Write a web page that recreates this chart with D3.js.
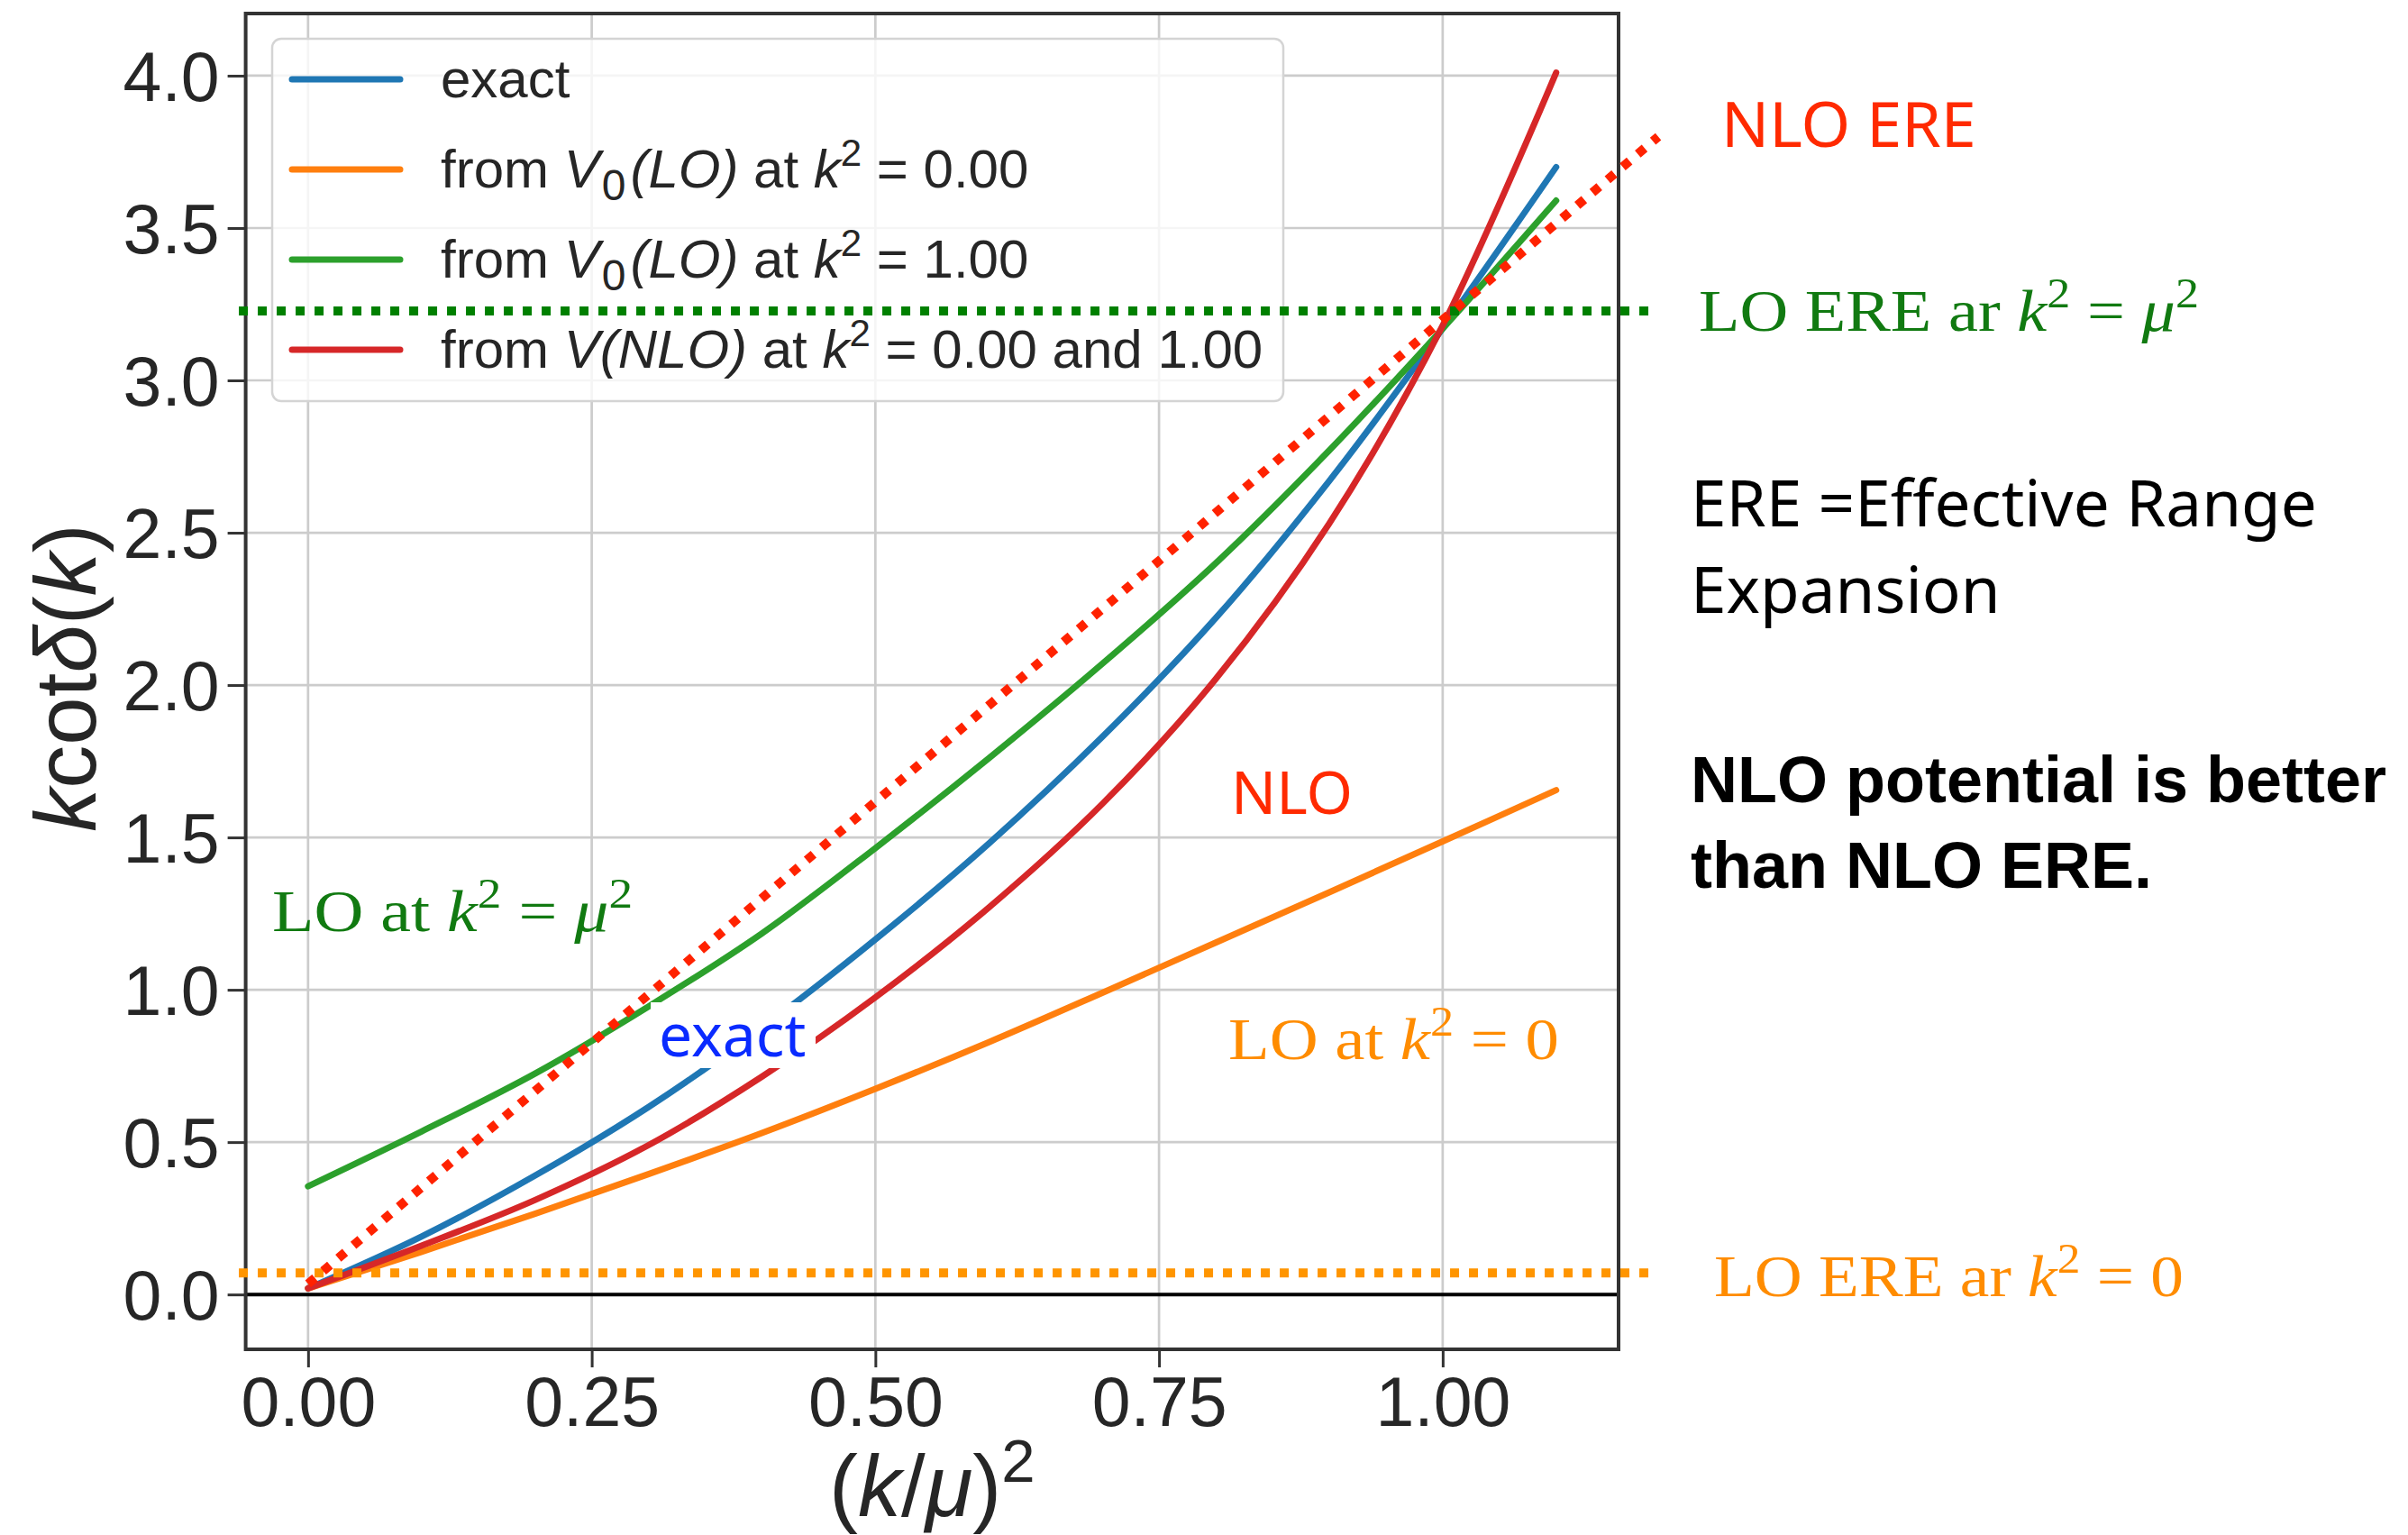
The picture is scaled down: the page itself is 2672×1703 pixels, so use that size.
<!DOCTYPE html>
<html>
<meta http-equiv="content-type" content="text/html; charset=utf-8" />
<head>
    <title>k cot delta</title>
</head>

<style>
body { margin: 0; background: #fff; }
text { white-space: pre; }
.axis text {
  font-family: "Liberation Sans", Arial, sans-serif;
  font-size: 77px;
  fill: #262626;
}
.axis line {
  stroke: #333;
  stroke-width: 3px;
}
.axis path { display: none; }
.grid line {
  stroke: #cccccc;
  stroke-width: 2.7px;
}
.curve {
  fill: none;
  stroke-width: 7px;
  stroke-linecap: round;
  stroke-linejoin: round;
}
</style>

<body>
<svg class="chart"></svg>
<script src="https://d3js.org/d3.v7.min.js"></script>

<script type="text/javascript">
// (k/mu)^2 sample points shared by all curves
var xs      = [0, 0.1, 0.2, 0.3, 0.4, 0.5, 0.6, 0.7, 0.8, 0.9, 1.0, 1.1];
var exact   = [0.02, 0.19, 0.39, 0.615, 0.875, 1.165, 1.48, 1.83, 2.22, 2.67, 3.17, 3.70];
var loAt0   = [0.02, 0.14, 0.265, 0.395, 0.53, 0.675, 0.828, 0.99, 1.155, 1.32, 1.487, 1.655];
var loAt1   = [0.355, 0.535, 0.725, 0.945, 1.185, 1.465, 1.76, 2.07, 2.40, 2.77, 3.17, 3.59];
var nloBoth = [0.02, 0.16, 0.31, 0.49, 0.715, 0.975, 1.27, 1.61, 2.02, 2.53, 3.18, 4.01];

var seriesNames  = ["exact", "loAt0", "loAt1", "nloBoth"];
var seriesColors = ["#1f77b4", "#ff7f0e", "#2ca02c", "#d62728"];
var seriesValues = [exact, loAt0, loAt1, nloBoth];

var xTicks = [0, 0.25, 0.5, 0.75, 1.0];
var yTicks = [0, 0.5, 1.0, 1.5, 2.0, 2.5, 3.0, 3.5, 4.0];

// hand-drawn ERE lines laid over the plot
var ereSpanX = [-0.061, 1.185];
var ereLoMuY = 3.228;
var ereLo0Y  = 0.071;
var ereNloX  = [0, 1.19];
var ereNloY  = [0.035, 3.80];

var W = 2672, H = 1703;
var plot = {left: 272.6, right: 1796, top: 15, bottom: 1497};

var svg = d3.select(".chart").attr("width", W).attr("height", H);
svg.append("rect").attr("width", W).attr("height", H).attr("fill", "#fff");

var x = d3.scaleLinear().domain([-0.055, 1.155]).range([plot.left, plot.right]);
var y = d3.scaleLinear().domain([-0.18, 4.204]).range([plot.bottom, plot.top]);

// grid
var grid = svg.append("g").attr("class", "grid");
grid.selectAll(".gx").data(xTicks).enter().append("line")
  .attr("x1", function(d) { return x(d); }).attr("x2", function(d) { return x(d); })
  .attr("y1", plot.top).attr("y2", plot.bottom);
grid.selectAll(".gy").data(yTicks).enter().append("line")
  .attr("y1", function(d) { return y(d); }).attr("y2", function(d) { return y(d); })
  .attr("x1", plot.left).attr("x2", plot.right);

// zero line
svg.append("line")
  .attr("x1", plot.left).attr("x2", plot.right)
  .attr("y1", y(0)).attr("y2", y(0))
  .attr("stroke", "#000").attr("stroke-width", 4);

// curves
var line = d3.line()
  .x(function(d) { return x(d[0]); })
  .y(function(d) { return y(d[1]); })
  .curve(d3.curveCatmullRom.alpha(0.5));

seriesValues.forEach(function(vals, i) {
  svg.append("path")
    .attr("class", "curve")
    .attr("stroke", seriesColors[i])
    .attr("d", line(xs.map(function(v, j) { return [v, vals[j]]; })));
});

// frame and axes
svg.append("rect")
  .attr("x", plot.left).attr("y", plot.top)
  .attr("width", plot.right - plot.left).attr("height", plot.bottom - plot.top)
  .attr("fill", "none").attr("stroke", "#333").attr("stroke-width", 4);

svg.append("g")
  .attr("class", "axis")
  .attr("transform", "translate(" + plot.left + ",0)")
  .call(d3.axisLeft(y).tickValues(yTicks).tickFormat(d3.format(".1f")).tickSize(20).tickPadding(9))
  .selectAll("text").attr("dy", "0.36em");

svg.append("g")
  .attr("class", "axis")
  .attr("transform", "translate(0," + plot.bottom + ")")
  .call(d3.axisBottom(x).tickValues(xTicks).tickFormat(d3.format(".2f")).tickSize(20).tickPadding(10));

// text with italic / super / subscript pieces
function mathText(parent, px, py, parts, size, color, family, weight) {
  var t = parent.append("text")
    .attr("x", px).attr("y", py)
    .style("font-size", size + "px")
    .style("font-family", family)
    .style("font-weight", weight || "normal")
    .style("fill", color);
  var shift = 0;
  parts.forEach(function(p) {
    var flag = p[1] || "";
    var s = t.append("tspan").text(p[0]);
    var target = 0;
    if (flag.indexOf("sup") >= 0) target = -0.40 * size;
    if (flag.indexOf("sub") >= 0) target = 0.24 * size;
    if (target !== shift) { s.attr("dy", target - shift); shift = target; }
    if (flag.indexOf("sup") >= 0) s.style("font-size", (size * 0.7) + "px");
    if (flag.indexOf("sub") >= 0) s.style("font-size", (size * 0.8) + "px").attr("dx", 2);
    if (flag.indexOf("it") >= 0) s.style("font-style", "italic");
    if (flag.indexOf("gap") >= 0) s.attr("dx", 5);
  });
  return t;
}

var sans = '"Liberation Sans", Arial, sans-serif';
var serif = '"Liberation Serif", "Times New Roman", serif';
var jp = '"Noto Sans", "Noto Sans CJK JP", sans-serif';

// axis labels
mathText(svg, (plot.left + plot.right) / 2, 1682,
  [["("], ["k", "it"], ["/"], ["μ", "it"], [")"], ["2", "sup"]], 96, "#262626", sans)
  .attr("text-anchor", "middle");
mathText(svg, 0, 0,
  [["k", "it"], ["cot"], ["δ", "it"], ["("], ["k", "it"], [")"]], 96, "#262626", sans)
  .attr("text-anchor", "middle")
  .attr("transform", "translate(106," + ((plot.top + plot.bottom) / 2 - 4) + ") rotate(-90)");

// legend
var legendLabels = [
  [["exact"]],
  [["from "], ["V", "it"], ["0", "sub"], ["(LO)", "it gap"], [" at "], ["k", "it"], ["2", "sup"], [" = 0.00"]],
  [["from "], ["V", "it"], ["0", "sub"], ["(LO)", "it gap"], [" at "], ["k", "it"], ["2", "sup"], [" = 1.00"]],
  [["from "], ["V", "it"], ["(NLO)", "it"], [" at "], ["k", "it"], ["2", "sup"], [" = 0.00 and 1.00"]]
];
var legend = svg.append("g");
legend.append("rect")
  .attr("x", 302).attr("y", 43).attr("width", 1122).attr("height", 402).attr("rx", 10)
  .attr("fill", "#fff").attr("fill-opacity", 0.8)
  .attr("stroke", "#d4d4d4").attr("stroke-width", 2.5);
legendLabels.forEach(function(parts, i) {
  var cy = 88 + i * 100;
  legend.append("line")
    .attr("x1", 324).attr("x2", 444).attr("y1", cy).attr("y2", cy)
    .attr("stroke", seriesColors[i]).attr("stroke-width", 7).attr("stroke-linecap", "round");
  mathText(legend, 489, cy + 20, parts, 60, "#262626", sans);
});

// ERE overlay lines
svg.append("line")
  .attr("x1", x(ereSpanX[0])).attr("x2", x(ereSpanX[1]))
  .attr("y1", y(ereLoMuY)).attr("y2", y(ereLoMuY))
  .attr("stroke", "#008000").attr("stroke-width", 10).attr("stroke-dasharray", "10,11");
svg.append("line")
  .attr("x1", x(ereSpanX[0])).attr("x2", x(ereSpanX[1]))
  .attr("y1", y(ereLo0Y)).attr("y2", y(ereLo0Y))
  .attr("stroke", "#ff9500").attr("stroke-width", 10).attr("stroke-dasharray", "10,11");
svg.append("line")
  .attr("x1", x(ereNloX[0])).attr("x2", x(ereNloX[1]))
  .attr("y1", y(ereNloY[0])).attr("y2", y(ereNloY[1]))
  .attr("stroke", "#ff2200").attr("stroke-width", 10).attr("stroke-dasharray", "10,12");

// annotations
var notes = svg.append("g");
notes.append("text").attr("x", 1910).attr("y", 163).text("NLO ERE")
  .style("font-family", jp).style("font-size", "70px").style("fill", "#ff2a00");
mathText(notes, 1885, 367, [["LO ERE ar "], ["k", "it"], ["2", "sup"], [" = "], ["μ", "it"], ["2", "sup"]], 65, "#117a11", serif)
  .attr("textLength", 555).attr("lengthAdjust", "spacingAndGlyphs");
notes.append("text").attr("x", 1876).attr("y", 584).text("ERE =Effective Range")
  .style("font-family", jp).style("font-size", "71px").style("fill", "#000");
notes.append("text").attr("x", 1876).attr("y", 680).text("Expansion")
  .style("font-family", jp).style("font-size", "71px").style("fill", "#000");
notes.append("text").attr("x", 1876).attr("y", 890).text("NLO potential is better")
  .style("font-family", sans).style("font-size", "72px").style("font-weight", "bold").style("fill", "#000");
notes.append("text").attr("x", 1876).attr("y", 985).text("than NLO ERE.")
  .style("font-family", sans).style("font-size", "72px").style("font-weight", "bold").style("fill", "#000");

notes.append("text").attr("x", 1366).attr("y", 903).text("NLO")
  .style("font-family", jp).style("font-size", "66px").style("fill", "#ff2a00");
mathText(notes, 302, 1033, [["LO at "], ["k", "it"], ["2", "sup"], [" = "], ["μ", "it"], ["2", "sup"]], 65, "#117a11", serif)
  .attr("textLength", 400).attr("lengthAdjust", "spacingAndGlyphs");
notes.append("rect").attr("x", 722).attr("y", 1112).attr("width", 183).attr("height", 73).attr("fill", "#fff");
notes.append("text").attr("x", 731).attr("y", 1172).text("exact")
  .style("font-family", jp).style("font-size", "66px").style("fill", "#0a2bff");
mathText(notes, 1363, 1175, [["LO at "], ["k", "it"], ["2", "sup"], [" = 0"]], 65, "#ff8c00", serif)
  .attr("textLength", 367).attr("lengthAdjust", "spacingAndGlyphs");
mathText(notes, 1902, 1438, [["LO ERE ar "], ["k", "it"], ["2", "sup"], [" = 0"]], 65, "#ff8c00", serif)
  .attr("textLength", 521).attr("lengthAdjust", "spacingAndGlyphs");
</script>
</body>
</html>
